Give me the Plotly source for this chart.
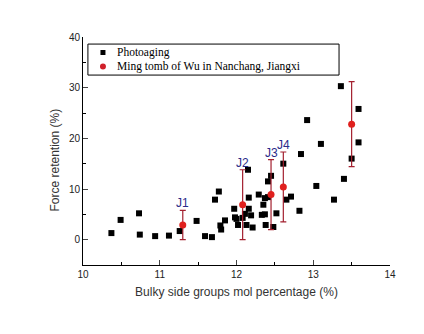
import plotly.graph_objects as go

# Photoaging (black squares)
photo_x = [10.37, 10.49, 10.73, 10.74, 10.94, 11.12, 11.26, 11.48, 11.59, 11.68,
           11.72, 11.77, 11.79, 11.80, 11.85, 11.97, 11.98, 12.00, 12.02, 12.08,
           12.11, 12.13, 12.15, 12.16, 12.16, 12.19, 12.21, 12.29, 12.35, 12.33,
           12.37, 12.38, 12.37, 12.41, 12.41, 12.45, 12.48, 12.52, 12.61, 12.65,
           12.71, 12.82, 12.84, 12.92, 13.04, 13.10, 13.27, 13.36, 13.40, 13.50,
           13.59, 13.59]
photo_y = [1.3, 3.9, 5.2, 1.0, 0.7, 0.8, 1.7, 3.7, 0.7, 0.5,
           7.9, 9.5, 2.8, 2.0, 3.8, 6.1, 4.4, 4.1, 2.9, 4.3,
           5.1, 2.9, 13.8, 8.3, 6.1, 4.8, 2.4, 8.9, 6.9, 4.9,
           5.0, 2.9, 8.2, 8.4, 11.5, 12.6, 2.5, 5.2, 15.0, 7.9,
           8.5, 5.7, 16.9, 23.6, 10.6, 18.9, 7.9, 30.3, 12.0, 16.0,
           25.8, 19.2]

# Ming tomb samples (red circles with error bars)
ming_x = [11.30, 12.08, 12.45, 12.61, 13.50]
ming_y = [2.9, 6.9, 8.9, 10.4, 22.8]
ming_err = [2.9, 6.9, 6.9, 6.9, 8.4]
ming_labels = ["J1", "J2", "J3", "J4", ""]

series_names = ["Photoaging", "Ming tomb of Wu in Nanchang, Jiangxi"]
x_ticks = [10, 11, 12, 13, 14]
y_ticks = [0, 10, 20, 30, 40]

fig = go.Figure()
fig.add_trace(go.Scatter(
    x=photo_x, y=photo_y, mode="markers", name=series_names[0],
    marker=dict(symbol="square", size=6, color="black"),
))
fig.add_trace(go.Scatter(
    x=ming_x, y=ming_y, mode="markers", name=series_names[1],
    marker=dict(symbol="circle", size=7, color="#e0201e"),
    error_y=dict(type="data", array=ming_err, visible=True, color="#a3202f",
                 thickness=1.2, width=3),
))

for lx, ly, le, lt in zip(ming_x, ming_y, ming_err, ming_labels):
    if lt:
        fig.add_annotation(x=lx, y=ly + le, text=lt, showarrow=False,
                           yanchor="bottom", yshift=-2,
                           font=dict(family="Liberation Sans", size=12, color="#2b2b8a"))

# Legend box (drawn manually for compact spacing)
fig.add_shape(type="rect", xref="paper", yref="paper",
              x0=0.016, x1=0.834, y0=0.833, y1=0.969,
              line=dict(color="black", width=1), fillcolor="rgba(0,0,0,0)")
legend_rows = [0.932, 0.871]
fig.add_shape(type="rect", xref="paper", yref="paper",
              xsizemode="pixel", ysizemode="pixel",
              xanchor=0.065, yanchor=legend_rows[0],
              x0=-2.5, x1=2.5, y0=-2.5, y1=2.5,
              line=dict(color="black", width=0), fillcolor="black")
fig.add_shape(type="circle", xref="paper", yref="paper",
              xsizemode="pixel", ysizemode="pixel",
              xanchor=0.065, yanchor=legend_rows[1],
              x0=-3, x1=3, y0=-3, y1=3,
              line=dict(color="#c0202a", width=0), fillcolor="#d0202a")
for name, ry in zip(series_names, legend_rows):
    fig.add_annotation(xref="paper", yref="paper", x=0.1075, y=ry,
                       text=name, showarrow=False, xanchor="left", yanchor="middle",
                       borderpad=0,
                       font=dict(family="Liberation Serif", size=11.5, color="black"))

fig.add_annotation(xref="paper", yref="paper", x=-0.09, y=0.46,
                   text="Force retention (%)", textangle=-90, showarrow=False,
                   xanchor="center", yanchor="middle",
                   font=dict(family="Liberation Sans", size=12, color="#333"))

fig.update_layout(
    width=424, height=334,
    margin=dict(l=83, r=34, t=37, b=69),
    paper_bgcolor="white", plot_bgcolor="white",
    showlegend=False,
    font=dict(family="Liberation Sans", color="#222"),
)
fig.update_xaxes(
    range=[10, 14], tickvals=x_ticks, ticks="inside", ticklen=5,
    showline=True, linecolor="black", linewidth=1, showgrid=False, zeroline=False,
    tickfont=dict(size=10, color="#222"),
    minor=dict(ticks="inside", ticklen=3, dtick=0.5, tickcolor="black", showgrid=False),
    title=dict(text="Bulky side groups mol percentage (%)", standoff=8,
               font=dict(family="Liberation Sans", size=12, color="#333")),
)
fig.update_yaxes(
    range=[-5, 40], tickvals=y_ticks, ticks="inside", ticklen=5,
    showline=True, linecolor="black", linewidth=1, showgrid=False, zeroline=False,
    tickfont=dict(size=10, color="#222"),
    minor=dict(ticks="inside", ticklen=3, tick0=0, dtick=5, tickcolor="black", showgrid=False),
)

fig.write_html("out.html")
